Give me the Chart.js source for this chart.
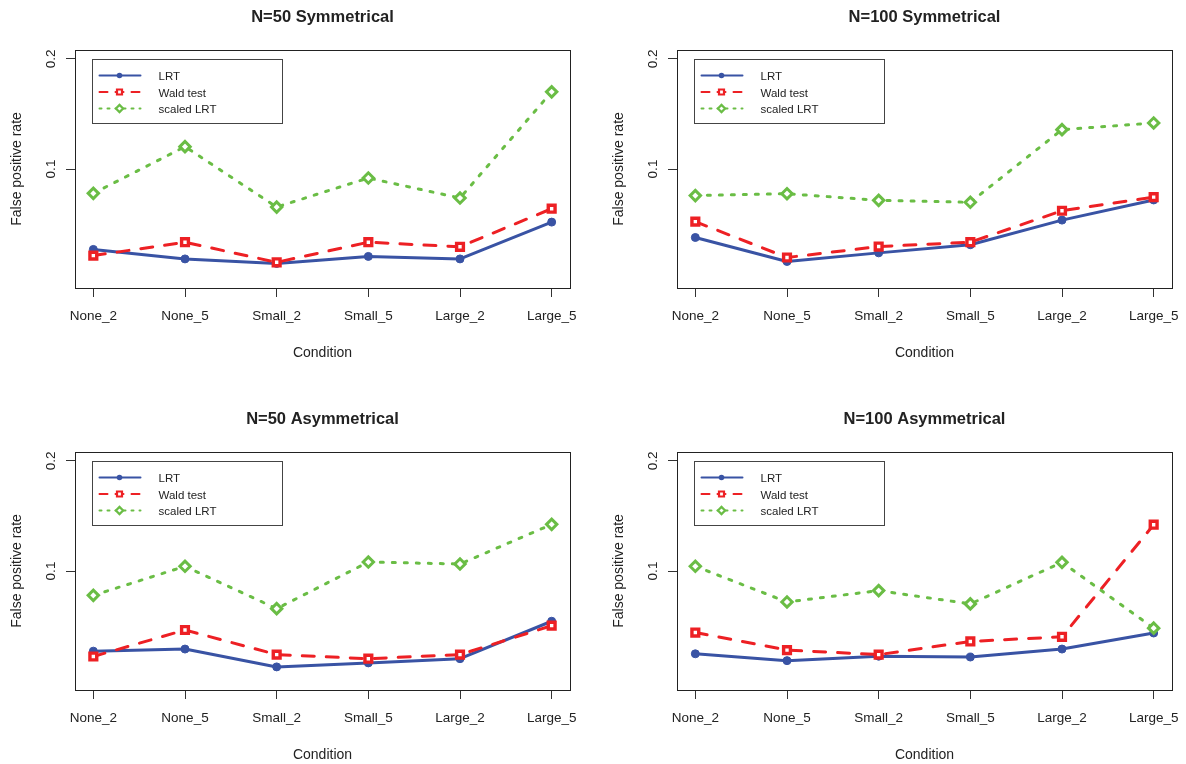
<!DOCTYPE html>
<html>
<head>
<meta charset="utf-8">
<script src="https://cdn.jsdelivr.net/npm/chart.js@4.4.1/dist/chart.umd.min.js"></script>
<style>
  html, body { margin: 0; padding: 0; background: #fff; overflow: hidden; }
  body { width: 1186px; height: 764px; position: relative; }
  .panel { position: absolute; width: 602px; height: 402px; }
</style>
</head>
<body>
<div class="panel" style="left:0;top:0"><canvas id="c0" width="602" height="402"></canvas></div>
<div class="panel" style="left:602px;top:0"><canvas id="c1" width="602" height="402"></canvas></div>
<div class="panel" style="left:0;top:402px"><canvas id="c2" width="602" height="402"></canvas></div>
<div class="panel" style="left:602px;top:402px"><canvas id="c3" width="602" height="402"></canvas></div>
<script>
const categories = ['None_2', 'None_5', 'Small_2', 'Small_5', 'Large_2', 'Large_5']
const seriesNames = ['LRT', 'Wald test', 'scaled LRT']
const panelTitles = ['N=50 Symmetrical', 'N=100 Symmetrical', 'N=50 Asymmetrical', 'N=100 Asymmetrical']
const yTicks = [0.1, 0.2]
const yLimits = [0.05, 0.2]

// N=50 symmetrical
const lrtN50Sym    = [0.0603, 0.0568, 0.0552, 0.0577, 0.0568, 0.0716]
const waldN50Sym   = [0.0580, 0.0631, 0.0556, 0.0631, 0.0613, 0.0779]
const scaledN50Sym = [0.0858, 0.1151, 0.0787, 0.0945, 0.0833, 0.1625]
// N=100 symmetrical
const lrtN100Sym    = [0.0650, 0.0559, 0.0590, 0.0621, 0.0725, 0.0823]
const waldN100Sym   = [0.0718, 0.0573, 0.0614, 0.0631, 0.0769, 0.0838]
const scaledN100Sym = [0.0846, 0.0856, 0.0821, 0.0811, 0.1281, 0.1336]
// N=50 asymmetrical
const lrtN50Asym    = [0.0604, 0.0612, 0.0547, 0.0561, 0.0576, 0.0729]
const waldN50Asym   = [0.0584, 0.0690, 0.0591, 0.0576, 0.0591, 0.0709]
const scaledN50Asym = [0.0858, 0.1030, 0.0789, 0.1058, 0.1045, 0.1341]
// N=100 asymmetrical
const lrtN100Asym    = [0.0594, 0.0569, 0.0585, 0.0582, 0.0612, 0.0677]
const waldN100Asym   = [0.0679, 0.0608, 0.0591, 0.0642, 0.0661, 0.1338]
const scaledN100Asym = [0.1030, 0.0823, 0.0884, 0.0813, 0.1056, 0.0698]

const blue = '#3953A4'
const red = '#ED2024'
const green = '#6ABD45'
const ink = '#222'

Chart.defaults.font.family = '"Liberation Sans", Arial, Helvetica, sans-serif'
Chart.defaults.color = ink

// R style log axis: limits stretched by 4% each side
const logSpan = Math.log10(yLimits[1]) - Math.log10(yLimits[0])
const yMin = Math.pow(10, Math.log10(yLimits[0]) - 0.04 * logSpan)
const yMax = Math.pow(10, Math.log10(yLimits[1]) + 0.04 * logSpan)

function toPoints(arr) {
    return arr.map((v, i) => ({ x: i + 1, y: v }))
}

function makeDatasets(lrt, wald, scaled) {
    const common = { fill: false, tension: 0, borderWidth: 3, borderCapStyle: 'round', borderJoinStyle: 'round' }
    return [
        Object.assign({}, common, {
            label: seriesNames[0], data: toPoints(lrt), order: 3,
            borderColor: blue, backgroundColor: blue,
            pointStyle: 'circle', pointRadius: 4, pointBorderWidth: 1,
            pointBackgroundColor: blue, pointBorderColor: blue
        }),
        Object.assign({}, common, {
            label: seriesNames[1], data: toPoints(wald), order: 2,
            borderColor: red, backgroundColor: red, borderDash: [12, 12],
            pointStyle: 'rect', pointRadius: 4.8, pointBorderWidth: 3.4,
            pointBackgroundColor: '#fff', pointBorderColor: red
        }),
        Object.assign({}, common, {
            label: seriesNames[2], data: toPoints(scaled), order: 1,
            borderColor: green, backgroundColor: green, borderDash: [3, 9],
            pointStyle: 'rectRot', pointRadius: 5.2, pointBorderWidth: 3,
            pointBackgroundColor: '#fff', pointBorderColor: green
        })
    ]
}

// box() around the plot region and the legend in the top left corner
const rFrame = {
    id: 'rFrame',
    afterDraw(chart) {
        const ctx = chart.ctx
        const a = chart.chartArea
        ctx.save()
        ctx.strokeStyle = ink
        ctx.lineWidth = 1
        ctx.strokeRect(Math.round(a.left) + 0.5, Math.round(a.top) + 0.5,
            Math.round(a.right - a.left), Math.round(a.bottom - a.top))

        const bx = Math.round(a.left + 17) + 0.5
        const by = Math.round(a.top + 9) + 0.5
        ctx.strokeStyle = '#444'
        ctx.strokeRect(bx, by, 190, 64)

        const rows = [16, 32.5, 49]
        const dashes = [[], [8, 8], [2, 6]]
        chart.data.datasets.forEach((ds, i) => {
            const y = by + rows[i]
            ctx.save()
            ctx.strokeStyle = ds.borderColor
            ctx.lineWidth = 2
            ctx.lineCap = 'round'
            ctx.setLineDash(dashes[i])
            ctx.beginPath()
            ctx.moveTo(bx + 7, y)
            ctx.lineTo(bx + 48, y)
            ctx.stroke()
            ctx.setLineDash([])
            const px = bx + 27
            ctx.beginPath()
            if (ds.pointStyle === 'circle') {
                ctx.fillStyle = ds.borderColor
                ctx.arc(px, y, 2.8, 0, Math.PI * 2)
                ctx.fill()
            } else if (ds.pointStyle === 'rect') {
                ctx.fillStyle = '#fff'
                ctx.lineWidth = 2.2
                ctx.rect(px - 2.5, y - 2.5, 5, 5)
                ctx.fill(); ctx.stroke()
            } else {
                ctx.fillStyle = '#fff'
                ctx.lineWidth = 2.2
                ctx.moveTo(px - 3.6, y); ctx.lineTo(px, y - 3.6)
                ctx.lineTo(px + 3.6, y); ctx.lineTo(px, y + 3.6)
                ctx.closePath()
                ctx.fill(); ctx.stroke()
            }
            ctx.restore()
            ctx.fillStyle = ink
            ctx.font = '11.5px "Liberation Sans", Arial, sans-serif'
            ctx.textBaseline = 'middle'
            ctx.textAlign = 'left'
            ctx.fillText(ds.label, bx + 66, y + 1.5)
        })
        ctx.restore()
    }
}

function makeChart(id, title, datasets) {
    const tickGrid = { display: true, drawOnChartArea: false, drawTicks: true, tickLength: 9, color: '#333', lineWidth: 1 }
    return new Chart(document.getElementById(id), {
        type: 'line',
        data: { datasets: datasets },
        options: {
            responsive: false,
            animation: false,
            devicePixelRatio: 1,
            layout: { padding: { top: 0, left: 0, right: 32, bottom: 0 } },
            plugins: {
                legend: { display: false },
                tooltip: { enabled: false },
                title: {
                    display: true, text: title, fullSize: false, color: ink,
                    font: { size: 16.5, weight: 'bold' },
                    padding: { top: 8, bottom: 22.2 }
                }
            },
            scales: {
                x: {
                    type: 'linear', min: 0.8, max: 6.2, bounds: 'data',
                    afterBuildTicks: s => { s.ticks = categories.map((c, i) => ({ value: i + 1 })) },
                    afterFit: s => { s.height = 114 },
                    ticks: {
                        callback: v => categories[v - 1],
                        font: { size: 13.5 }, color: ink, padding: 11,
                        maxRotation: 0, minRotation: 0, autoSkip: false
                    },
                    grid: tickGrid,
                    border: { display: false },
                    title: { display: true, text: 'Condition', color: ink, font: { size: 14 }, padding: { top: 0, bottom: 40.6 } }
                },
                y: {
                    type: 'logarithmic', min: yMin, max: yMax, bounds: 'data',
                    afterBuildTicks: s => { s.ticks = yTicks.map(v => ({ value: v })) },
                    afterFit: s => { s.width = 75 },
                    ticks: {
                        callback: v => String(v),
                        font: { size: 13.5 }, color: ink, padding: 5.6,
                        minRotation: 90, maxRotation: 90, crossAlign: 'center'
                    },
                    grid: tickGrid,
                    border: { display: false },
                    title: { display: true, text: 'False positive rate', color: ink, font: { size: 14 }, padding: { top: 8.3, bottom: 0 } }
                }
            }
        },
        plugins: [rFrame]
    })
}

makeChart('c0', panelTitles[0], makeDatasets(lrtN50Sym, waldN50Sym, scaledN50Sym))
makeChart('c1', panelTitles[1], makeDatasets(lrtN100Sym, waldN100Sym, scaledN100Sym))
makeChart('c2', panelTitles[2], makeDatasets(lrtN50Asym, waldN50Asym, scaledN50Asym))
makeChart('c3', panelTitles[3], makeDatasets(lrtN100Asym, waldN100Asym, scaledN100Asym))
</script>
</body>
</html>
